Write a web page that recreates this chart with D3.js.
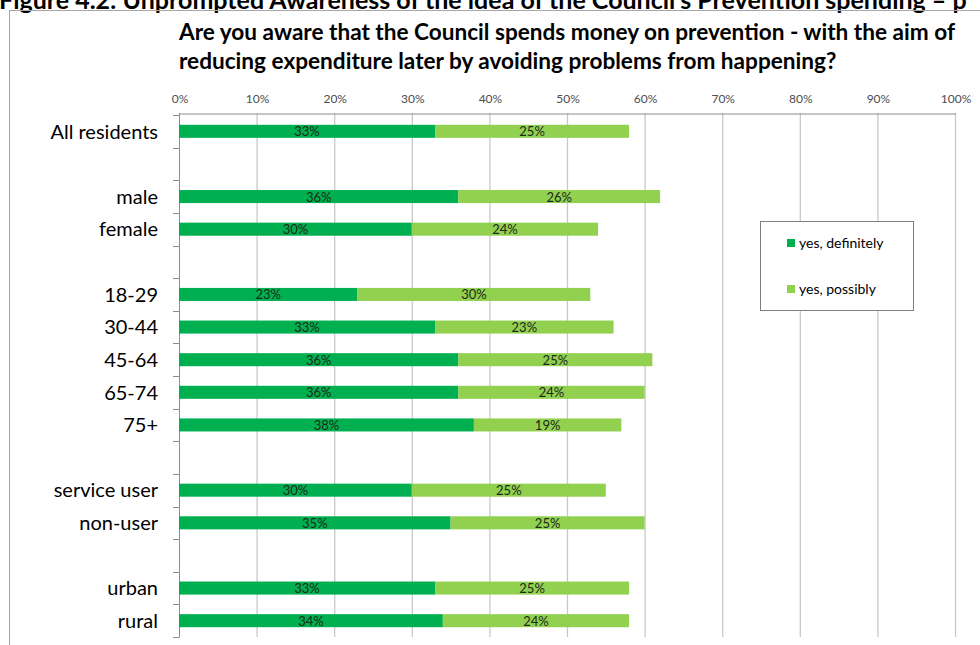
<!DOCTYPE html>
<html><head><meta charset="utf-8">
<script src="https://cdn.jsdelivr.net/npm/d3@7"></script>
<style>body{margin:0;background:#fff;} svg{display:block;}</style>
</head><body>
<svg id="chart" width="980" height="645"></svg>
<script>
const categories = ["All residents", "", "male", "female", "", "18-29", "30-44", "45-64", "65-74", "75+", "", "service user", "non-user", "", "urban", "rural"];
const definitely = [33, null, 36, 30, null, 23, 33, 36, 36, 38, null, 30, 35, null, 33, 34];
const possibly   = [25, null, 26, 24, null, 30, 23, 25, 24, 19, null, 25, 25, null, 25, 24];
const seriesNames = ["yes, definitely", "yes, possibly"];
const seriesColors = ["#00B050", "#92D050"];
const xTicks = [0, 10, 20, 30, 40, 50, 60, 70, 80, 90, 100];
const caption = "Figure 4.2: Unprompted Awareness of the idea of the Council's Prevention spending \u2013 p";
const titleLines = ["Are you aware that the Council spends money on prevention - with the aim of", "reducing expenditure later by avoiding problems from happening?"];

const font = "Lato, 'Open Sans', sans-serif";
const svg = d3.select("#chart");

// caption (cut at top, as in the source)
svg.append("text").attr("x", -1).attr("y", 9).attr("font-family", font)
  .attr("font-weight", "bold").attr("font-size", 25).attr("fill", "#000").text(caption);

// chart frame
svg.append("rect").attr("x", 9.5).attr("y", 10.5).attr("width", 1000).attr("height", 700)
  .attr("fill", "none").attr("stroke", "#a6a6a6").attr("stroke-width", 1);

// title
const title = svg.append("g");
titleLines.forEach((t, i) => {
  title.append("text").attr("x", 179).attr("y", 40 + i * 29)
    .attr("font-family", font).attr("font-weight", "bold").attr("font-size", 22.6).attr("fill", "#000").text(t);
});

const x = d3.scaleLinear().domain([0, 100]).range([179, 955]);
const y = d3.scaleBand().domain(d3.range(categories.length)).range([115, 637]).paddingInner(0.6).paddingOuter(0.3);
const yOuter = d3.scaleBand().domain(d3.range(categories.length)).range([115, 637]);

// grid
svg.append("g").selectAll("line").data(xTicks.slice(1)).join("line")
  .attr("x1", d => x(d) + 0.5).attr("x2", d => x(d) + 0.5).attr("y1", 113).attr("y2", 637)
  .attr("stroke", "#c8c8c8").attr("stroke-width", 1.3);

// top axis
const xAxis = d3.axisTop(x).tickValues(xTicks).tickFormat(d => d + "%").tickSize(0).tickPadding(11);
const gx = svg.append("g").attr("transform", "translate(0.5,113.5)").call(xAxis);
gx.select(".domain").attr("stroke", "#8c8c8c");
gx.selectAll("text").attr("font-family", font).attr("font-size", 12).attr("fill", "#4d4d4d");
gx.selectAll(".tick line").remove();

// left axis
svg.append("line").attr("x1", 179.5).attr("x2", 179.5).attr("y1", 113).attr("y2", 637.5).attr("stroke", "#8c8c8c");
const bounds = d3.range(categories.length + 1).map(i => i < categories.length ? yOuter(i) : 637);
svg.append("g").selectAll("line").data(bounds).join("line")
  .attr("x1", 173).attr("x2", 179).attr("y1", d => Math.round(d) + 0.5).attr("y2", d => Math.round(d) + 0.5)
  .attr("stroke", "#8c8c8c");

// category labels
svg.append("g").selectAll("text").data(categories).join("text")
  .attr("x", 158).attr("y", (d, i) => yOuter(i) + yOuter.bandwidth() / 2).attr("dy", "0.36em")
  .attr("text-anchor", "end").attr("font-family", font).attr("font-size", 20).attr("fill", "#000")
  .text(d => d);

// bars
const stacked = categories.map((c, i) => ({i, segs: [
  {s: 0, x0: 0, x1: definitely[i], v: definitely[i]},
  {s: 1, x0: definitely[i], x1: definitely[i] + possibly[i], v: possibly[i]}
]})).filter(d => definitely[d.i] != null);

const rows = svg.append("g").selectAll("g").data(stacked).join("g");
rows.selectAll("rect").data(d => d.segs.map(s => ({...s, i: d.i}))).join("rect")
  .attr("x", d => x(d.x0)).attr("width", d => x(d.x1) - x(d.x0))
  .attr("y", d => y(d.i)).attr("height", y.bandwidth())
  .attr("fill", d => seriesColors[d.s]);
rows.selectAll("text").data(d => d.segs.map(s => ({...s, i: d.i}))).join("text")
  .attr("x", d => (x(d.x0) + x(d.x1)) / 2).attr("y", d => y(d.i) + y.bandwidth() / 2).attr("dy", "0.38em")
  .attr("text-anchor", "middle").attr("font-family", font).attr("font-size", 13).attr("fill", "#1a2a1a")
  .text(d => d.v + "%");

// legend
const lg = svg.append("g");
lg.append("rect").attr("x", 760.5).attr("y", 221.5).attr("width", 153).attr("height", 89)
  .attr("fill", "#fff").attr("stroke", "#7f7f7f");
seriesNames.forEach((n, k) => {
  lg.append("rect").attr("x", 787).attr("y", 239 + k * 46).attr("width", 8).attr("height", 8).attr("fill", seriesColors[k]);
  lg.append("text").attr("x", 799).attr("y", 243 + k * 46).attr("dy", "0.36em")
    .attr("font-family", font).attr("font-size", 14).attr("fill", "#000").text(n);
});
</script>
</body></html>
